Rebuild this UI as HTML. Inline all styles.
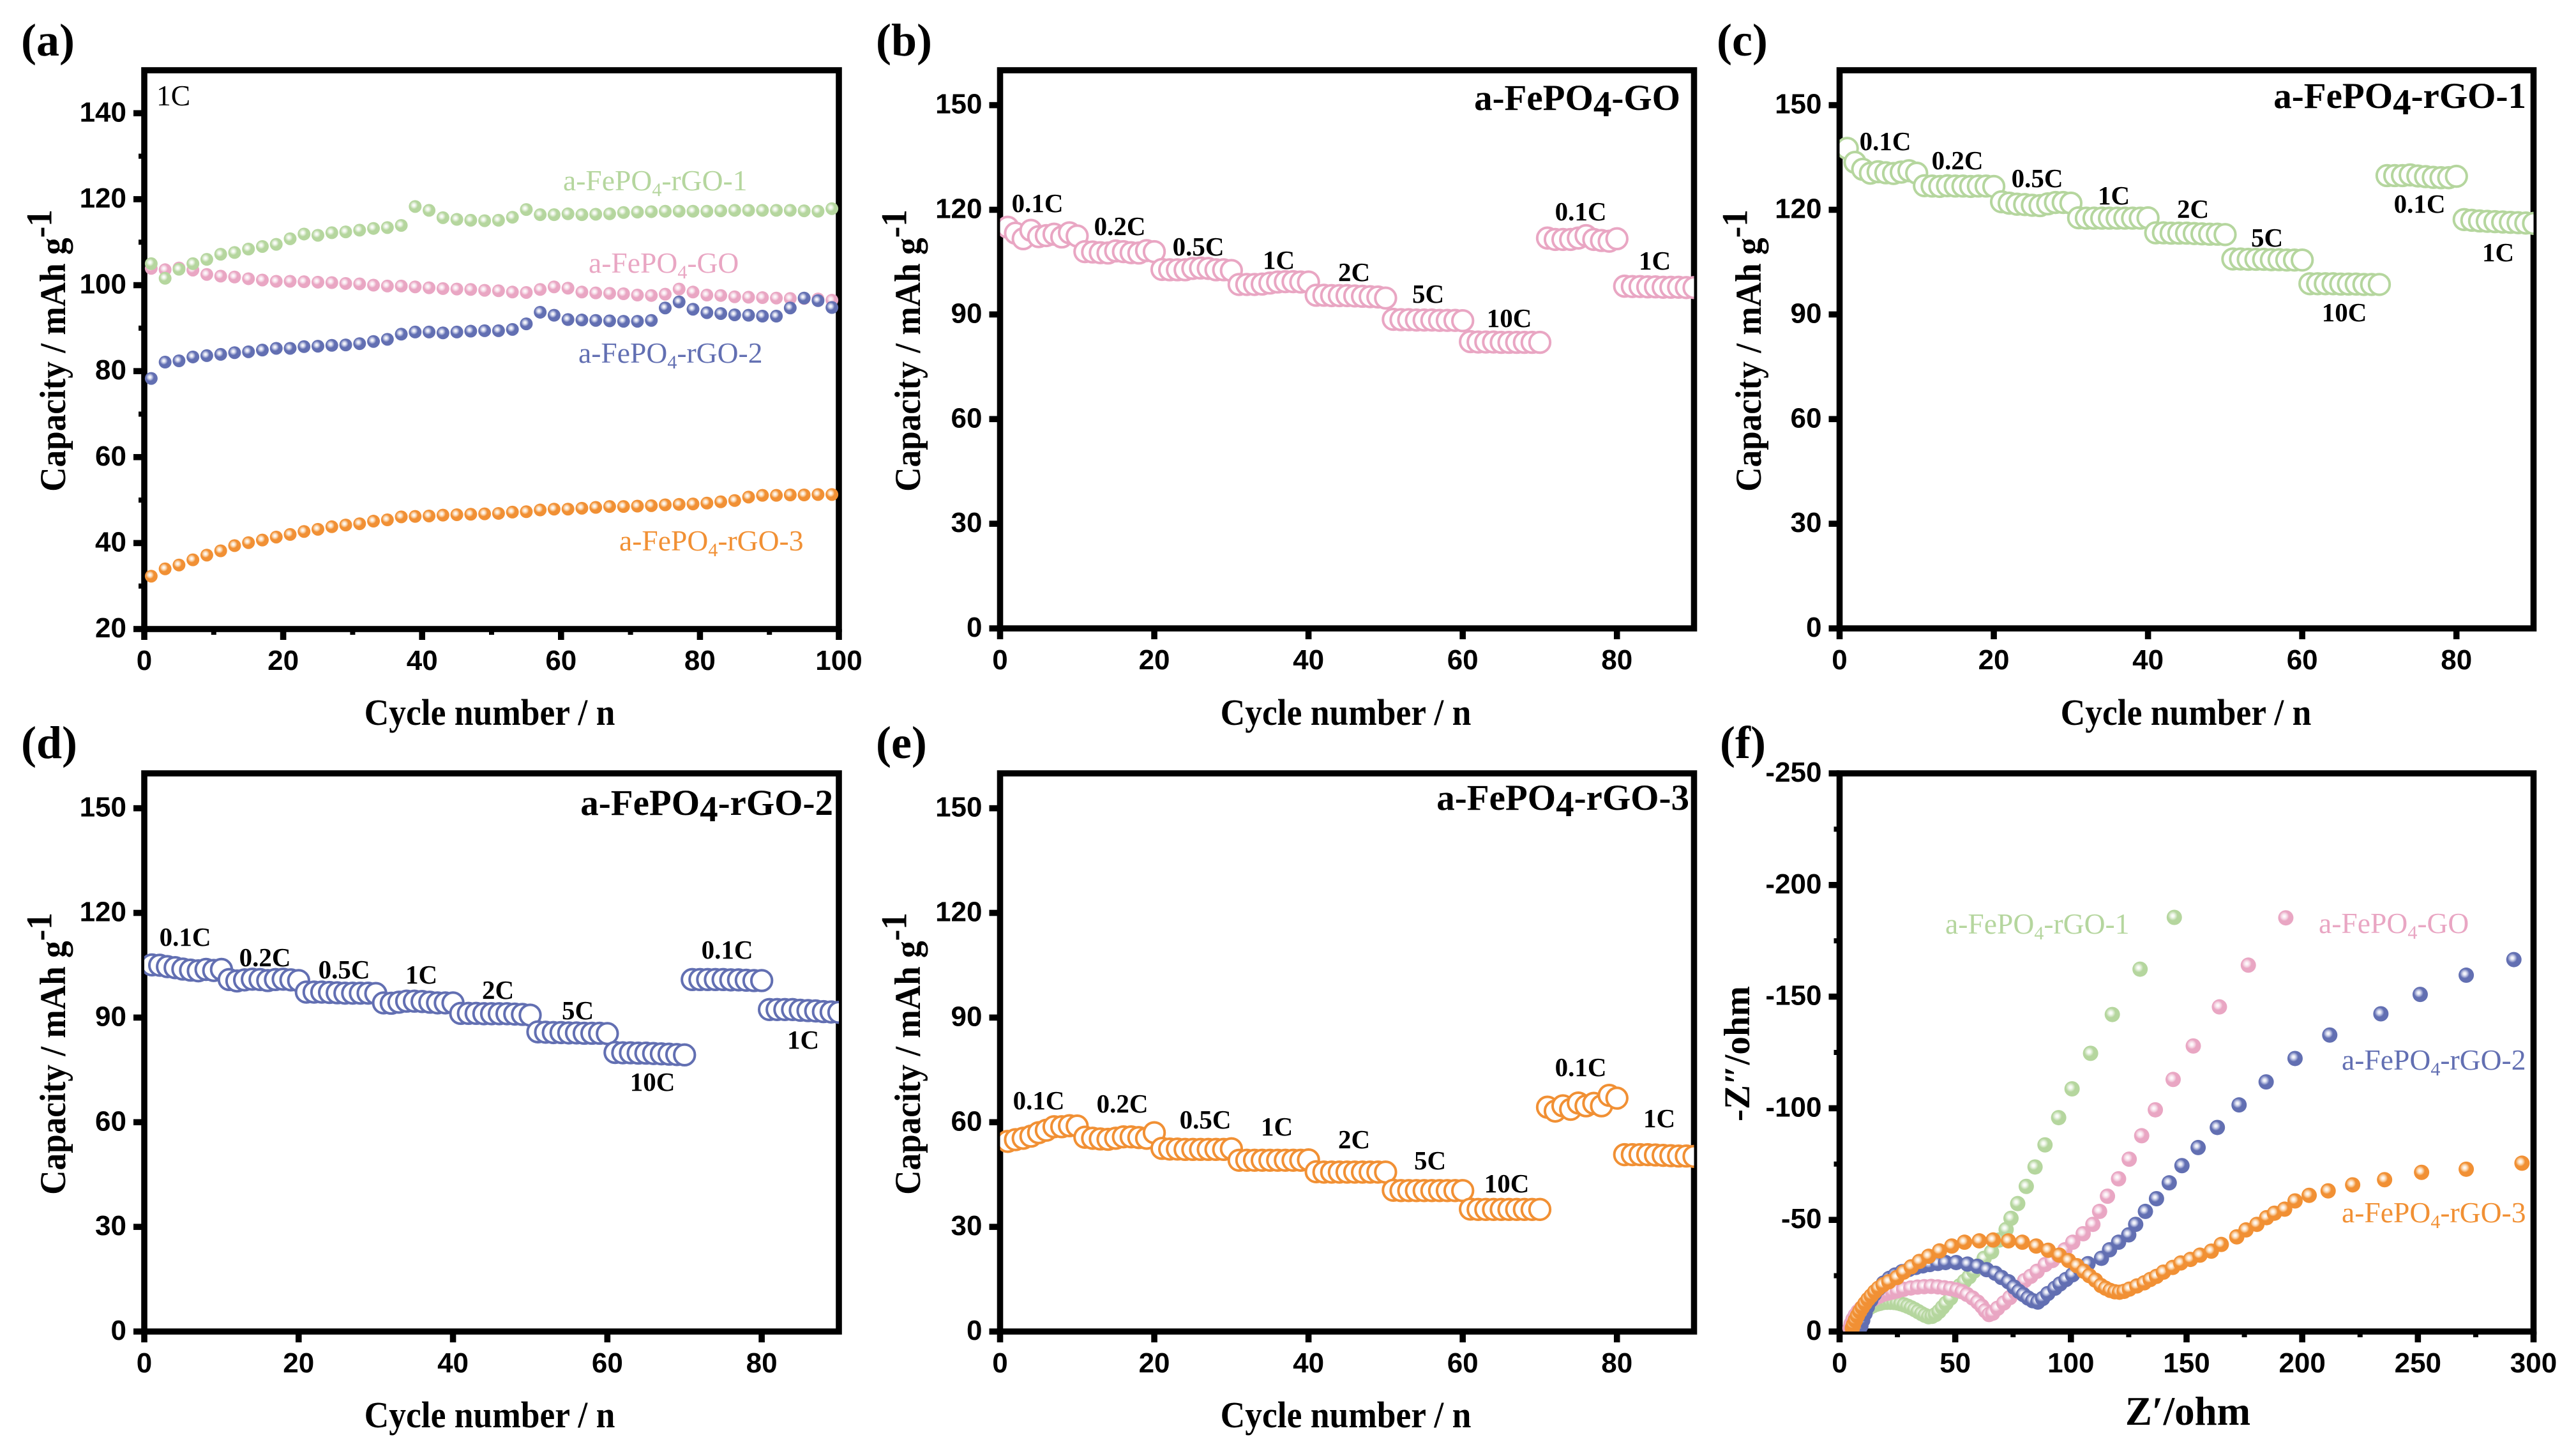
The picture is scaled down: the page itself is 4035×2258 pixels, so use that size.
<!DOCTYPE html>
<html lang="en">
<head>
<meta charset="utf-8">
<title>a-FePO4 electrochemical performance</title>
<style>
html,body{margin:0;padding:0;background:#fff;width:4035px;height:2258px;overflow:hidden}
svg{display:block}
text{font-family:"Liberation Serif",serif;fill:#000}
.letter{font-size:72px;font-weight:700}
.axt{font-size:53.5px;font-weight:700;text-anchor:middle}
.cap{font-size:53.2px;font-weight:700;text-anchor:middle}
.rate{font-size:41px;font-weight:700;text-anchor:middle}
.ttl{font-size:57px;font-weight:700;text-anchor:end}
.lab{font-size:45.6px}
.tick{font-family:"Liberation Sans",sans-serif;font-size:44px;font-weight:700}
.g{fill:#B5D69E}.p{fill:#E9A6C3}.b{fill:#626FB2}.o{fill:#F19034}
</style>
</head>
<body>
<svg id="fig" xmlns="http://www.w3.org/2000/svg" width="4035" height="2258" viewBox="0 0 4035 2258">
<defs>
<radialGradient id="sph-g" cx=".4" cy=".4" r=".62"><stop offset="0" stop-color="#fff"/><stop offset=".16" stop-color="#f4f9f0"/><stop offset=".34" stop-color="#d4e7c7"/><stop offset=".5" stop-color="#B5D69E"/><stop offset="1" stop-color="#B5D69E"/></radialGradient>
<radialGradient id="sph-p" cx=".4" cy=".4" r=".62"><stop offset="0" stop-color="#fff"/><stop offset=".16" stop-color="#fbeff5"/><stop offset=".34" stop-color="#f3cfdf"/><stop offset=".5" stop-color="#E9A6C3"/><stop offset="1" stop-color="#E9A6C3"/></radialGradient>
<radialGradient id="sph-b" cx=".4" cy=".4" r=".62"><stop offset="0" stop-color="#fff"/><stop offset=".16" stop-color="#e6e8f4"/><stop offset=".34" stop-color="#a4acd6"/><stop offset=".5" stop-color="#626FB2"/><stop offset="1" stop-color="#626FB2"/></radialGradient>
<radialGradient id="sph-o" cx=".4" cy=".4" r=".62"><stop offset="0" stop-color="#fff"/><stop offset=".16" stop-color="#fdeedd"/><stop offset=".34" stop-color="#f8c590"/><stop offset=".5" stop-color="#F19034"/><stop offset="1" stop-color="#F19034"/></radialGradient>
</defs>

<text class="letter" x="33" y="87">(a)</text>
<text class="letter" x="1372" y="87">(b)</text>
<text class="letter" x="2689" y="87">(c)</text>
<text class="letter" x="33" y="1187">(d)</text>
<text class="letter" x="1372" y="1187">(e)</text>
<text class="letter" x="2694" y="1187">(f)</text>

<text class="axt" transform="translate(767,1135) scale(1,1.08)">Cycle number / n</text>
<text class="axt" transform="translate(2108,1135) scale(1,1.08)">Cycle number / n</text>
<text class="axt" transform="translate(3424,1135) scale(1,1.08)">Cycle number / n</text>
<text class="axt" transform="translate(767,2235) scale(1,1.08)">Cycle number / n</text>
<text class="axt" transform="translate(2108,2235) scale(1,1.08)">Cycle number / n</text>
<text x="3427" y="2231" text-anchor="middle" font-size="63" font-weight="700">Z′/ohm</text>

<text class="cap" transform="translate(102,549) rotate(-90) scale(1,1.08)">Capacity / mAh g<tspan dy="-20">-1</tspan></text>
<text class="cap" transform="translate(1441,549) rotate(-90) scale(1,1.08)">Capacity / mAh g<tspan dy="-20">-1</tspan></text>
<text class="cap" transform="translate(2758,549) rotate(-90) scale(1,1.08)">Capacity / mAh g<tspan dy="-20">-1</tspan></text>
<text class="cap" transform="translate(102,1650) rotate(-90) scale(1,1.08)">Capacity / mAh g<tspan dy="-20">-1</tspan></text>
<text class="cap" transform="translate(1441,1650) rotate(-90) scale(1,1.08)">Capacity / mAh g<tspan dy="-20">-1</tspan></text>
<text transform="translate(2740,1650) rotate(-90)" text-anchor="middle" font-size="57" font-weight="700">-Z″/ohm</text>

<text class="ttl" x="2632" y="172">a-FePO<tspan dy="10">4</tspan><tspan dy="-10">-GO</tspan></text>
<text class="ttl" x="3957" y="169">a-FePO<tspan dy="10">4</tspan><tspan dy="-10">-rGO-1</tspan></text>
<text class="ttl" x="1305" y="1276">a-FePO<tspan dy="10">4</tspan><tspan dy="-10">-rGO-2</tspan></text>
<text class="ttl" x="2646" y="1268">a-FePO<tspan dy="10">4</tspan><tspan dy="-10">-rGO-3</tspan></text>

<text class="lab" x="245" y="165">1C</text>
<text class="lab g" x="882" y="298">a-FePO<tspan dy="9" font-size="30">4</tspan><tspan dy="-9">-rGO-1</tspan></text>
<text class="lab p" x="922" y="427">a-FePO<tspan dy="9" font-size="30">4</tspan><tspan dy="-9">-GO</tspan></text>
<text class="lab b" x="906" y="568">a-FePO<tspan dy="9" font-size="30">4</tspan><tspan dy="-9">-rGO-2</tspan></text>
<text class="lab o" x="970" y="862">a-FePO<tspan dy="9" font-size="30">4</tspan><tspan dy="-9">-rGO-3</tspan></text>

<text class="lab g" x="3047" y="1462">a-FePO<tspan dy="9" font-size="30">4</tspan><tspan dy="-9">-rGO-1</tspan></text>
<text class="lab p" x="3632" y="1461">a-FePO<tspan dy="9" font-size="30">4</tspan><tspan dy="-9">-GO</tspan></text>
<text class="lab b" x="3668" y="1675">a-FePO<tspan dy="9" font-size="30">4</tspan><tspan dy="-9">-rGO-2</tspan></text>
<text class="lab o" x="3668" y="1914">a-FePO<tspan dy="9" font-size="30">4</tspan><tspan dy="-9">-rGO-3</tspan></text>

<g>
<text class="rate" x="1625" y="332">0.1C</text><text class="rate" x="1754" y="368">0.2C</text><text class="rate" x="1877" y="400">0.5C</text><text class="rate" x="2003" y="421">1C</text><text class="rate" x="2121" y="440">2C</text><text class="rate" x="2237" y="474">5C</text><text class="rate" x="2364" y="512">10C</text><text class="rate" x="2476" y="345">0.1C</text><text class="rate" x="2592" y="422">1C</text>
</g>
<g>
<text class="rate" x="2953" y="235">0.1C</text><text class="rate" x="3066" y="265">0.2C</text><text class="rate" x="3191" y="293">0.5C</text><text class="rate" x="3311" y="320">1C</text><text class="rate" x="3435" y="341">2C</text><text class="rate" x="3551" y="386">5C</text><text class="rate" x="3672" y="503">10C</text><text class="rate" x="3790" y="333">0.1C</text><text class="rate" x="3913" y="409">1C</text>
</g>
<g>
<text class="rate" x="290" y="1481">0.1C</text><text class="rate" x="415" y="1513">0.2C</text><text class="rate" x="539" y="1532">0.5C</text><text class="rate" x="660" y="1540">1C</text><text class="rate" x="780" y="1564">2C</text><text class="rate" x="905" y="1596">5C</text><text class="rate" x="1022" y="1708">10C</text><text class="rate" x="1139" y="1501">0.1C</text><text class="rate" x="1258" y="1642">1C</text>
</g>
<g>
<text class="rate" x="1627" y="1737">0.1C</text><text class="rate" x="1758" y="1742">0.2C</text><text class="rate" x="1888" y="1767">0.5C</text><text class="rate" x="2000" y="1778">1C</text><text class="rate" x="2121" y="1798">2C</text><text class="rate" x="2240" y="1831">5C</text><text class="rate" x="2360" y="1867">10C</text><text class="rate" x="2476" y="1685">0.1C</text><text class="rate" x="2599" y="1765">1C</text>
</g>
</svg>

<script>
// ---------- panel (a): cycling at 1C ----------
const cyclesA = [1,3,5,7,9,11,13,15,17,19,21,23,25,27,29,31,33,35,37,39,41,43,45,47,49,51,53,55,57,59,61,63,65,67,69,71,73,75,77,79,81,83,85,87,89,91,93,95,97,99];
const capGO = [103.9,103.6,104,103.5,102.5,102.1,101.9,101.5,101.2,100.9,100.9,100.8,100.7,100.6,100.4,100.3,100,99.8,99.8,99.6,99.4,99.2,99.1,99,98.8,98.7,98.4,98.3,99,99.6,99.3,98.4,98.2,98.1,98,97.7,97.6,97.9,99.1,98.4,97.7,97.6,97.3,97.2,97.1,97,96.9,96.9,96.8,96.5];
const capRGO1 = [105,101.6,103.7,105,106,107.2,107.6,108.4,109,109.5,110.8,111.9,111.6,112.2,112.4,112.8,113.2,113.4,113.9,118.3,117.4,115.7,115.3,115.1,115,115.1,115.8,117.6,116.4,116.4,116.6,116.4,116.5,116.6,116.9,117,117.1,117.2,117.2,117.2,117.2,117.3,117.4,117.4,117.4,117.4,117.4,117.3,117.2,117.8];
const capRGO2 = [78.3,82.1,82.4,83.3,83.6,83.9,84.3,84.5,84.9,85.3,85.3,85.7,85.8,86,86.1,86.4,86.9,87.4,88.6,89.1,89.1,88.9,89.1,89.3,89.4,89.4,89.7,91,93.7,93,92,91.9,91.8,91.7,91.6,91.6,91.8,94.7,96.1,94.4,93.6,93.4,93.1,93,92.8,92.8,94.7,97,96.4,94.8];
const capRGO3 = [32.3,34,34.9,36.1,37.2,38.2,39.4,40.1,40.7,41.4,42,42.7,43.2,43.8,44.2,44.5,45.1,45.4,46.1,46.2,46.3,46.5,46.6,46.7,46.8,46.9,47.2,47.3,47.7,47.9,47.9,48.1,48.3,48.5,48.5,48.6,48.7,48.9,49,49.1,49.3,49.6,49.9,50.7,51.1,51.1,51.2,51.2,51.3,51.3];

// ---------- panels (b)-(e): rate capability ----------
const cyclesRate = [1,2,3,4,5,6,7,8,9,10,11,12,13,14,15,16,17,18,19,20,21,22,23,24,25,26,27,28,29,30,31,32,33,34,35,36,37,38,39,40,41,42,43,44,45,46,47,48,49,50,51,52,53,54,55,56,57,58,59,60,61,62,63,64,65,66,67,68,69,70,71,72,73,74,75,76,77,78,79,80,81,82,83,84,85,86,87,88,89,90];
const rateGO = [115,113.3,111.7,114.1,112.3,112.6,113,112.2,113.4,112.5,
108,107.9,107.7,107.6,108.2,108,107.7,107.6,108.3,108,
102.9,102.8,102.8,102.8,103.2,103.3,103.2,102.8,102.8,102.6,
98.6,98.6,98.6,98.7,99,99.3,99.4,99.4,99.3,99.3,
95.5,95.5,95.4,95.4,95.4,95.3,95.2,95.1,95,94.7,
88.6,88.5,88.5,88.4,88.4,88.4,88.3,88.3,88.3,88.2,
82.2,82.1,82.1,82.1,82,82,82,82,82,82,
111.9,111.5,111.5,111.5,111.9,112.6,111.5,111.2,111,111.7,
98.1,98,98,97.9,97.9,97.8,97.8,97.8,97.7,97.7];
const rateRGO1 = [137.6,133.6,131.6,130.5,130.9,130.6,130.4,130.8,131.2,130.5,
126.9,126.8,126.7,126.9,126.8,126.8,126.7,126.8,126.8,126.7,
122.3,121.9,121.6,121.5,121.3,121.2,121.7,122.1,122.1,121.9,
117.7,117.6,117.6,117.6,117.6,117.6,117.6,117.6,117.6,117.7,
113.4,113.4,113.3,113.3,113.3,113.2,113.1,113,113,112.9,
105.9,105.9,105.8,105.8,105.8,105.7,105.7,105.6,105.6,105.6,
98.8,98.8,98.8,98.8,98.7,98.7,98.7,98.6,98.6,98.6,
129.8,129.8,129.8,130,129.7,129.5,129.3,129.2,129.2,129.6,
117.2,117,116.8,116.7,116.6,116.5,116.4,116.3,116.2,116.1];
const rateRGO2 = [105.1,105,104.6,104.3,103.9,103.6,103.4,103.8,103.5,103.8,
100.9,100.5,100.8,101,100.9,100.6,100.9,101,100.8,100.6,
97.3,97.3,97.3,97.2,97.1,97,97,97,97,96.9,
94.2,94.1,94.4,94.7,94.7,94.6,94.4,94.2,94.2,94.2,
91.2,91.2,91.2,91.1,91.1,91.1,91.1,91,90.9,90.7,
85.9,85.8,85.7,85.7,85.6,85.6,85.5,85.5,85.5,85.4,
80,79.9,79.9,79.8,79.8,79.7,79.6,79.5,79.4,79.3,
100.9,100.9,100.9,100.9,100.9,100.8,100.8,100.7,100.6,100.6,
92.3,92.3,92.3,92.3,92.1,92,91.9,91.7,91.6,91.5];
const rateRGO3 = [54.5,55,55.4,56,57,57.7,58.7,58.7,59,58.9,
55.7,55.4,55.2,55.1,55.4,55.8,55.8,55.6,55.4,57,
52.5,52.3,52.3,52.2,52.2,52.2,52.2,52.2,52.2,52.4,
49.1,49.1,49.1,49.1,49.1,49.1,49.1,49.1,49.1,49.2,
45.8,45.7,45.7,45.7,45.7,45.7,45.7,45.7,45.7,45.7,
40.5,40.4,40.4,40.4,40.4,40.4,40.4,40.4,40.4,40.4,
35.1,35,35,35,35,35,35,35,35,35,
64.3,63.2,64.7,63.7,65.5,64.7,65.4,64.7,67.7,66.9,
50.7,50.7,50.7,50.7,50.6,50.5,50.4,50.3,50.3,50.2];

// ---------- panel (f): Nyquist plots, [Z', -Z''] ----------
const eisRGO1 = [[8,1],[8.6,3],[9.3,5],[10,7],[11,8.8],[12,10],[13,10.8],[14.5,11.6],[16,12.2],[17.5,12.6],[19,13],[20.5,13.1],[22,13.1],[23.5,13],[25,12.8],[26.5,12.4],[28,11.9],[29.5,11.3],[31,10.6],[32.5,9.8],[34,8.9],[35.5,8],[37,7.2],[38.5,6.6],[40,6.8],[41.5,7.6],[43,9],[44.5,10.8],[46,12.6],[48,15],[50.4,18],[52,20.5],[54,22.5],[56,24.5],[58,27],[60,29.5],[62.5,32.8],[65.7,35.7],[69,41],[72,45.7],[74.1,50.7],[77,57.3],[80.7,65],[84.5,73.7],[88.8,83.6],[94.7,95.8],[100.5,108.7],[108.5,124.6],[117.9,142],[129.9,162.3],[144.7,185.5]];
const eisGO = [[4.5,1.5],[5,3.5],[5.8,5.5],[6.8,7.3],[8,9],[9.3,10.4],[10.7,11.7],[12.2,12.9],[13.8,14],[15.5,15],[17.2,15.9],[19,16.7],[21,17.2],[23,17.7],[25,18.2],[27.7,18.9],[30.8,19.5],[33.7,19.9],[36.6,20.1],[39.6,20.2],[42.5,20],[45.3,19.6],[48,19.2],[50.7,18.6],[53,17.8],[55.1,16.6],[57.5,15],[59.7,13.2],[61.5,11.3],[63,9.3],[64.6,7.6],[66.2,8.2],[68.3,10.4],[71,12.8],[73.6,15.2],[76,17.5],[78,20],[80,22.8],[82.6,24.7],[85.4,27],[88.9,30],[92,31.8],[94.7,34],[97.4,36.6],[100.8,40],[105.3,43.8],[109.5,48],[112.4,53.8],[115.8,60.6],[120.6,68.4],[125.2,77.2],[130.6,87.7],[136.5,99.3],[144.2,112.9],[152.9,127.9],[164.2,145.4],[176.7,164.1],[192.9,185.3]];
const eisRGO2 = [[8.5,0.8],[9.2,2.5],[10,5],[11,8],[12,11],[13.5,14],[15,16.7],[17,19.3],[19,21.7],[21.5,23.8],[24,25.3],[27,26.8],[30,27.8],[33,28.7],[36,29.4],[39,30],[42.5,30.5],[45.8,30.9],[50.4,30.9],[55.3,30.2],[59.6,29.2],[63.6,27.7],[67.3,26.1],[70,24.2],[73,22.3],[75.4,19.9],[77.5,18],[79.5,16.5],[81.5,15],[83.5,13.8],[85.7,13.2],[87.8,14.8],[90,17],[93.1,19.4],[95.3,21.3],[97.9,23.3],[100.7,25.4],[104,28],[107.4,30.4],[113.2,32.8],[116.7,36.6],[120.6,40],[125,43.3],[128,48],[132.2,53.8],[137,59.5],[142.5,66.6],[148,74.3],[155,82.4],[163.3,91.4],[172.7,101.5],[184.4,111.8],[196.9,122.3],[211.9,132.8],[234,142.3],[251,151],[270.9,159.6],[291.5,166.6]];
const eisRGO3 = [[5.5,1.5],[6,3],[6.8,5],[7.7,7],[8.7,9],[9.8,10.8],[11,12.6],[12.3,14.4],[13.7,16],[15.2,17.8],[16.8,19.4],[18.8,20.9],[21.3,22.3],[24.8,24.2],[27.7,26.6],[31,29],[34.5,31.4],[38.5,33.7],[43.2,36.1],[48.5,38.3],[54,40],[60.4,40.6],[66.4,41],[73,40.6],[79,40],[85,38.3],[90.2,36.4],[95,34.2],[99,31.8],[102.6,29.5],[105.6,27],[108,25],[110.6,23],[113,20.6],[115,19.4],[117,18.4],[119,17.8],[121,17.6],[123,18],[125.3,19],[128.5,20.4],[131.7,21.8],[134.3,23.3],[137,24.7],[140,26.6],[144,28.7],[147.5,30.7],[151.7,32.3],[155.8,34.2],[160.7,36],[165,39],[171.7,42.4],[175.7,45.5],[180.4,48],[184.6,51],[188,53],[192.4,54.8],[196.9,58.5],[203,61],[211.2,63],[221.8,65.7],[235.6,68],[251.6,71.3],[270.9,72.7],[295,75.4]];

// ---------- tick labels ----------
const ticksCycleA = [0,20,40,60,80,100];
const minorCycleA = [10,30,50,70,90];
const ticksCapA = [20,40,60,80,100,120,140];
const minorCapA = [30,50,70,90,110,130];
const ticksCycleRate = [0,20,40,60,80];
const ticksCapRate = [0,30,60,90,120,150];
const ticksZre = [0,50,100,150,200,250,300];
const minorZre = [25,75,125,175,225,275];
const ticksZim = [0,50,100,150,200,250];
const tickLabelsZim = ["0","-50","-100","-150","-200","-250"];
const minorZim = [25,75,125,175,225];

const NS = 'http://www.w3.org/2000/svg';
const fig = document.getElementById('fig');
const GREEN = '#B5D69E', PINK = '#E9A6C3', BLUE = '#626FB2', ORANGE = '#F19034';

function mk(parent, tag, attrs) {
  const n = document.createElementNS(NS, tag);
  for (const k in attrs) n.setAttribute(k, attrs[k]);
  parent.appendChild(n);
  return n;
}

function panel(id, box, xDom, yDom) {
  const sx = v => box.l + (v - xDom[0]) / (xDom[1] - xDom[0]) * (box.r - box.l);
  const sy = v => box.b - (v - yDom[0]) / (yDom[1] - yDom[0]) * (box.b - box.t);
  const g = mk(fig, 'g', {});
  
  
  const frame = mk(g, 'rect', {x: box.l, y: box.t, width: box.r - box.l, height: box.b - box.t, fill: 'none', stroke: '#000', 'stroke-width': 9.6});
  
  
  const defs = mk(g, 'clipPath', {id: 'clip-' + id});
  mk(defs, 'rect', {x: box.l, y: box.t, width: box.r - box.l, height: box.b - box.t});
  const plot = mk(g, 'g', {'clip-path': 'url(#clip-' + id + ')'});
  
  
  return {g, plot, sx, sy, box};
}

function xTicks(p, values, labels, minors) {
  const b = p.box.b;
  values.forEach((v, i) => {
    const x = p.sx(v);
    const t = mk(p.g, 'rect', {x: x - 4.8, y: b, width: 9.6, height: 17, fill: '#000'});
    
    
    const l = mk(p.g, 'text', {x: x, y: b + 64, 'text-anchor': 'middle', class: 'tick'});
    l.textContent = labels[i];
    
    
  });
  (minors || []).forEach(v => {
    const t = mk(p.g, 'rect', {x: p.sx(v) - 4, y: b, width: 8, height: 9, fill: '#000'});
    
    
  });
}

function yTicks(p, values, labels, minors) {
  const l0 = p.box.l;
  values.forEach((v, i) => {
    const y = p.sy(v);
    const t = mk(p.g, 'rect', {x: l0 - 17, y: y - 4.8, width: 17, height: 9.6, fill: '#000'});
    
    
    const l = mk(p.g, 'text', {x: l0 - 28, y: y + 13, 'text-anchor': 'end', class: 'tick'});
    l.textContent = labels[i];
    
    
  });
  (minors || []).forEach(v => {
    const t = mk(p.g, 'rect', {x: l0 - 9, y: p.sy(v) - 4, width: 9, height: 8, fill: '#000'});
    
    
  });
}

function spheres(p, name, grad, xs, ys, r) {
  const s = mk(p.plot, 'g', {});
  
  
  xs.forEach((x, i) => {
    const c = mk(s, 'circle', {cx: p.sx(x), cy: p.sy(ys[i]), r: r, fill: 'url(#' + grad + ')'});
    
    
  });
}

function rings(p, name, color, xs, ys) {
  const s = mk(p.plot, 'g', {});
  
  
  xs.forEach((x, i) => {
    const c = mk(s, 'circle', {cx: p.sx(x), cy: p.sy(ys[i]), r: 16.2, fill: '#fff', stroke: color, 'stroke-width': 4});
    
    
  });
}

// panel a
const pa = panel('a', {l: 226, r: 1314, t: 110, b: 985}, [0, 100], [20, 150]);
xTicks(pa, ticksCycleA, ticksCycleA, minorCycleA);
yTicks(pa, ticksCapA, ticksCapA, minorCapA);
spheres(pa, 'a-fepo4-go', 'sph-p', cyclesA, capGO, 10);
spheres(pa, 'a-fepo4-rgo-1', 'sph-g', cyclesA, capRGO1, 10);
spheres(pa, 'a-fepo4-rgo-2', 'sph-b', cyclesA, capRGO2, 10);
spheres(pa, 'a-fepo4-rgo-3', 'sph-o', cyclesA, capRGO3, 10);

// panels b-e
const pb = panel('b', {l: 1566.5, r: 2653.5, t: 110, b: 984}, [0, 90], [0, 160]);
const pc = panel('c', {l: 2881.5, r: 3968.5, t: 110, b: 984}, [0, 90], [0, 160]);
const pd = panel('d', {l: 226, r: 1314, t: 1211, b: 2085}, [0, 90], [0, 160]);
const pe = panel('e', {l: 1566.5, r: 2653.5, t: 1211, b: 2085}, [0, 90], [0, 160]);
[pb, pc, pd, pe].forEach(p => {
  xTicks(p, ticksCycleRate, ticksCycleRate);
  yTicks(p, ticksCapRate, ticksCapRate);
});
rings(pb, 'rate-go', PINK, cyclesRate, rateGO);
rings(pc, 'rate-rgo-1', GREEN, cyclesRate, rateRGO1);
rings(pd, 'rate-rgo-2', BLUE, cyclesRate, rateRGO2);
rings(pe, 'rate-rgo-3', ORANGE, cyclesRate, rateRGO3);

// panel f
const pf = panel('f', {l: 2881.5, r: 3968.5, t: 1211, b: 2085}, [0, 300], [0, 250]);
xTicks(pf, ticksZre, ticksZre, minorZre);
yTicks(pf, ticksZim, tickLabelsZim, minorZim);
spheres(pf, 'eis-rgo-1', 'sph-g', eisRGO1.map(d => d[0]), eisRGO1.map(d => d[1]), 12);
spheres(pf, 'eis-go', 'sph-p', eisGO.map(d => d[0]), eisGO.map(d => d[1]), 12);
spheres(pf, 'eis-rgo-2', 'sph-b', eisRGO2.map(d => d[0]), eisRGO2.map(d => d[1]), 12);
spheres(pf, 'eis-rgo-3', 'sph-o', eisRGO3.map(d => d[0]), eisRGO3.map(d => d[1]), 12);
</script>
</body>
</html>
